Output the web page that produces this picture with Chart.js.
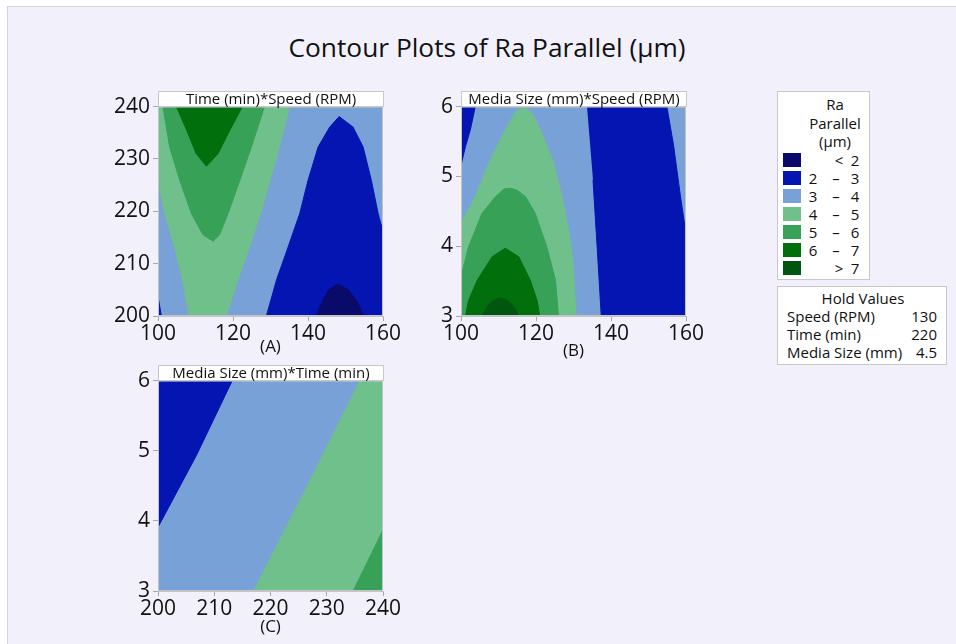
<!DOCTYPE html>
<html>
<head>
<meta charset="utf-8">
<script src="https://cdn.jsdelivr.net/npm/chart.js@4.4.1/dist/chart.umd.min.js"></script>
<style>
  body { margin: 0; width: 956px; height: 644px; overflow: hidden; background: #fff; font-family: 'Open Sans', sans-serif; color: #111; }
  #page { position: absolute; left: 7px; top: 6px; right: 0; bottom: 0; background: #f1f0fb; border-left: 1px solid #d4d4d8; border-top: 1px solid #d4d4d8; }
  .abs { position: absolute; }
  #title { left: 0; width: 974px; top: 29px; text-align: center; font-size: 26.3px; }
  .head { background: #fff; border: 1px solid #c8c8c8; box-sizing: border-box; height: 16px; font-size: 15px; line-height: 13px; text-align: center; white-space: nowrap; z-index: 2; }
  .box { background: #fff; border: 1px solid #c8c8c8; box-sizing: border-box; font-size: 15px; }
  .sw { position: absolute; width: 18px; height: 14px; }
  .t { position: absolute; transform: translate(-50%, -50%); white-space: nowrap; }
</style>
</head>
<body>
<div id="page"></div>
<div id="title" class="abs">Contour Plots of Ra Parallel (µm)</div>

<div class="abs head" style="left:158px;top:91px;width:226px">Time (min)*Speed (RPM)</div>
<div class="abs head" style="left:461px;top:91px;width:226px">Media Size (mm)*Speed (RPM)</div>
<div class="abs head" style="left:158px;top:365px;width:226px">Media Size (mm)*Time (min)</div>

<canvas id="chartA" class="abs"></canvas>
<canvas id="chartB" class="abs"></canvas>
<canvas id="chartC" class="abs"></canvas>

<div id="legend" class="abs box" style="left:777px;top:91px;width:93px;height:189px"></div>
<div id="hold" class="abs box" style="left:777px;top:286px;width:170px;height:79px"></div>

<script>
// contour bands, low to high
const bandNames = ['<2', '2-3', '3-4', '4-5', '5-6', '6-7', '>7'];
const bandColors = ['#0a0a6b', '#0515b2', '#78a1d7', '#70c08b', '#37a157', '#006f0c', '#005611'];
const legendRows = [['', '<', '2'], ['2', '–', '3'], ['3', '–', '4'], ['4', '–', '5'], ['5', '–', '6'], ['6', '–', '7'], ['', '>', '7']];

const holdNames = ['Speed (RPM)', 'Time (min)', 'Media Size (mm)'];
const holdValues = ['130', '220', '4.5'];

const speedRange = [100, 160];
const timeRange = [200, 240];
const mediaRange = [3, 6];

// (A) Time vs Speed : [speed, time]
const aBand45 = [[100, 240], [100, 226], [101.8, 219.6], [104.4, 213.2], [106.5, 206.9], [108.3, 200], [118.2, 200], [121.3, 206.9], [124.4, 213.2], [127.5, 220], [131.5, 230], [135.1, 240]];
const aBand56 = [[101.3, 240], [103.1, 232.3], [105.8, 225.9], [108.9, 219.6], [112, 215.5], [114.7, 214.3], [116.4, 215.5], [118.7, 219.6], [121.8, 225.9], [124.9, 232.3], [128.4, 240]];
const aBand67 = [[104.9, 240], [107.7, 235.4], [110.2, 231], [112.9, 228.6], [116, 231], [119.1, 235.4], [122.5, 240]];
const aBand23 = [[128.9, 200], [131.6, 206.9], [134.7, 213.2], [137.8, 219.6], [140, 225.9], [142.7, 232.3], [145.8, 236.1], [148.3, 238.1], [152, 236.1], [154.7, 232.3], [156.9, 225.9], [158.7, 219.6], [160, 216.1], [160, 200]];
const aBandLow = [[142.2, 200], [144, 203], [145.5, 205], [148, 206.1], [150.7, 205], [152.9, 203], [154.9, 200]];
const aBand23Edge = [[100, 200], [100, 203.7], [100.9, 200]];

// (B) Media Size vs Speed : [speed, media]
const bBand23Left = [[100, 6], [103.8, 6], [102.5, 5.67], [101.2, 5.43], [100, 5.16]];
const bBand23Right = [[133.6, 6], [154.9, 6], [156.7, 5.44], [158.5, 4.72], [160, 4.18], [160, 3], [137.4, 3], [136.3, 3.99], [135.2, 4.95]];
const bBand45 = [[100, 3], [100, 4.33], [103.8, 4.71], [107.4, 5.19], [111.8, 5.67], [114.5, 5.92], [116.7, 6], [119, 5.9], [121.2, 5.67], [124.7, 5.19], [126.9, 4.71], [128.7, 4.23], [129.9, 3.75], [130.7, 3]];
const bBand56 = [[100, 3], [100, 3.56], [102, 3.99], [105.6, 4.47], [109.2, 4.71], [111.5, 4.82], [113.2, 4.83], [115, 4.8], [117.2, 4.71], [119.8, 4.47], [122.9, 3.99], [125.2, 3.51], [126, 3]];
const bBand67 = [[101.2, 3], [102, 3.22], [104.3, 3.51], [108.3, 3.85], [111.8, 3.97], [115.4, 3.85], [118.5, 3.51], [120.3, 3.22], [121, 3]];
const bBandHigh = [[105.6, 3], [106.9, 3.13], [108.5, 3.22], [110.5, 3.26], [112.5, 3.22], [114.2, 3.13], [115.4, 3]];

// (C) Media Size vs Time : [time, media]
const cBand23 = [[200, 6], [213.2, 6], [206.8, 4.93], [200, 3.91]];
const cBand45 = [[217, 3], [226.3, 4.46], [235.9, 6], [240, 6], [240, 3]];
const cBand56 = [[234.7, 3], [240, 3.87], [240, 3]];

function rect(xr, yr) {
  return [[xr[0], yr[0]], [xr[0], yr[1]], [xr[1], yr[1]], [xr[1], yr[0]]];
}

const frame = {
  id: 'frame',
  afterDatasetsDraw(chart) {
    const {ctx, chartArea: a} = chart;
    ctx.save();
    ctx.strokeStyle = '#c4c4c8';
    ctx.lineWidth = 1;
    ctx.strokeRect(a.left + 0.5, a.top + 0.5, a.right - a.left - 1, a.bottom - a.top - 1);
    ctx.restore();
  }
};

function makeContour(id, opts) {
  const n = opts.layers.length;
  const datasets = opts.layers.map(([band, pts], i) => ({
    data: pts.map(([x, y]) => ({x, y})),
    showLine: true,
    fill: 'shape',
    backgroundColor: bandColors[bandNames.indexOf(band)],
    borderColor: bandColors[bandNames.indexOf(band)],
    borderWidth: 1,
    pointRadius: 0,
    tension: 0,
    order: n - i
  }));
  const canvas = document.getElementById(id);
  canvas.style.left = opts.left + 'px';
  canvas.style.top = opts.top + 'px';
  canvas.width = opts.width;
  canvas.height = opts.height;
  const tickFont = {family: "'Open Sans', sans-serif", size: 21};
  return new Chart(canvas, {
    type: 'scatter',
    data: {datasets},
    plugins: [frame],
    options: {
      responsive: false,
      animation: false,
      layout: {padding: {top: 8, right: 22, left: 0, bottom: 0}},
      plugins: {legend: {display: false}, tooltip: {enabled: false}},
      scales: {
        x: {
          type: 'linear',
          min: opts.xRange[0], max: opts.xRange[1],
          ticks: {stepSize: opts.xStep, color: '#111', font: tickFont, padding: 0, maxRotation: 0},
          grid: {drawOnChartArea: false, tickLength: 5, color: '#a8a8a8'},
          border: {color: '#c4c4c8'},
          title: {display: true, text: opts.label, color: '#111', font: {family: "'Open Sans', sans-serif", size: 17}, padding: 0},
          afterFit: s => { s.height = opts.xAxisH; }
        },
        y: {
          type: 'linear',
          min: opts.yRange[0], max: opts.yRange[1],
          ticks: {stepSize: opts.yStep, color: '#111', font: tickFont, padding: 3},
          grid: {drawOnChartArea: false, tickLength: 5, color: '#a8a8a8'},
          border: {color: '#c4c4c8'},
          afterFit: s => { s.width = 58; }
        }
      }
    }
  });
}

makeContour('chartA', {
  left: 100, top: 91, width: 305, height: 266, xAxisH: 41,
  xRange: speedRange, yRange: timeRange, xStep: 20, yStep: 10, label: '(A)',
  layers: [['3-4', rect(speedRange, timeRange)], ['4-5', aBand45], ['5-6', aBand56], ['6-7', aBand67],
           ['2-3', aBand23], ['<2', aBandLow], ['2-3', aBand23Edge]]
});

makeContour('chartB', {
  left: 403, top: 91, width: 305, height: 270, xAxisH: 45,
  xRange: speedRange, yRange: mediaRange, xStep: 20, yStep: 1, label: '(B)',
  layers: [['3-4', rect(speedRange, mediaRange)], ['2-3', bBand23Left], ['2-3', bBand23Right], ['4-5', bBand45],
           ['5-6', bBand56], ['6-7', bBand67], ['>7', bBandHigh]]
});

makeContour('chartC', {
  left: 100, top: 365, width: 305, height: 272, xAxisH: 46,
  xRange: timeRange, yRange: mediaRange, xStep: 10, yStep: 1, label: '(C)',
  layers: [['3-4', rect(timeRange, mediaRange)], ['2-3', cBand23], ['4-5', cBand45], ['5-6', cBand56]]
});

// legend box
const legend = document.getElementById('legend');
['Ra', 'Parallel', '(µm)'].forEach((s, i) => {
  legend.insertAdjacentHTML('beforeend', `<div class="t" style="left:57px;top:${12 + i * 18.5}px">${s}</div>`);
});
legendRows.forEach((r, i) => {
  const y = 68 + i * 18;
  legend.insertAdjacentHTML('beforeend',
    `<div class="sw" style="left:5px;top:${y - 7}px;background:${bandColors[i]}"></div>` +
    `<div class="t" style="left:35px;top:${y}px">${r[0]}</div>` +
    `<div class="t" style="left:${r[0] ? 58 : 61}px;top:${y}px">${r[1]}</div>` +
    `<div class="t" style="left:77px;top:${y}px">${r[2]}</div>`);
});

// hold values box
const hold = document.getElementById('hold');
hold.insertAdjacentHTML('beforeend', `<div class="t" style="left:85px;top:11px">Hold Values</div>`);
holdNames.forEach((name, i) => {
  const y = 30 + i * 18;
  hold.insertAdjacentHTML('beforeend',
    `<div style="position:absolute;left:9px;top:${y - 11}px;white-space:nowrap">${name}</div>` +
    `<div style="position:absolute;right:9px;top:${y - 11}px">${holdValues[i]}</div>`);
});
</script>
</body>
</html>
